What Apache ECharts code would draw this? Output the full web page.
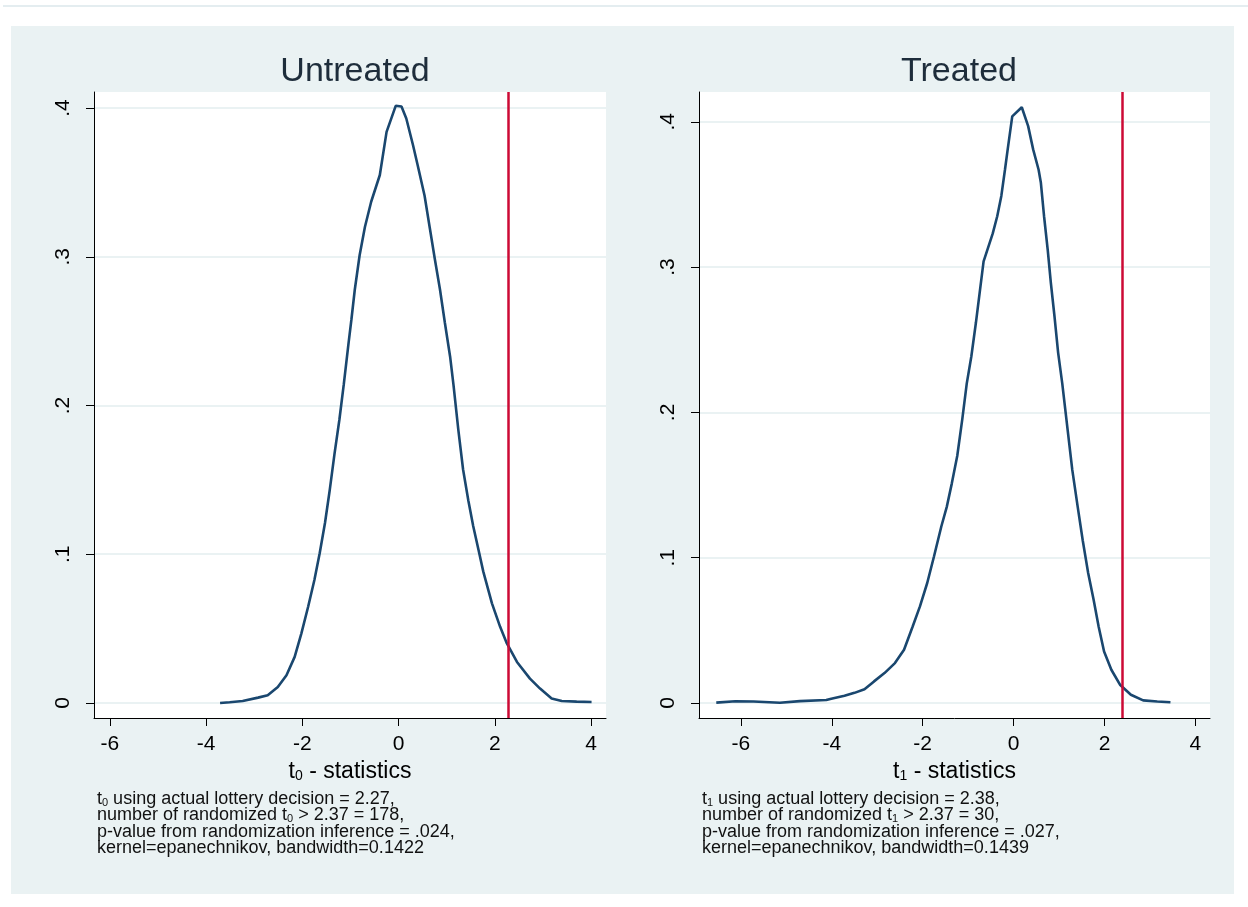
<!DOCTYPE html>
<html>
<head>
<meta charset="utf-8">
<script src="https://cdn.jsdelivr.net/npm/echarts@6/dist/echarts.min.js"></script>
<style>
  html, body { margin: 0; padding: 0; background: #fff; }
  #chart { width: 1248px; height: 907px; }
</style>
</head>
<body>
<div id="chart"></div>
<script>
// kernel density of randomized t-statistics
const untreatedT = [-3.71, -3.51, -3.24, -2.92, -2.72, -2.51, -2.33, -2.16, -2.02, -1.88, -1.75, -1.64,
  -1.53, -1.43, -1.33, -1.23, -1.14, -1.04, -0.98, -0.91, -0.81, -0.70, -0.57, -0.39, -0.25, -0.06,
  0.06, 0.16, 0.30, 0.40, 0.54, 0.65, 0.75, 0.86, 0.96, 1.07, 1.14, 1.24, 1.34, 1.45, 1.55, 1.66,
  1.76, 1.94, 2.11, 2.25, 2.46, 2.73, 2.94, 3.18, 3.39, 3.70, 4.01];
const untreatedDensity = [0.0, 0.0005, 0.0013, 0.0036, 0.0052, 0.0108, 0.0187, 0.031, 0.0468, 0.0647,
  0.0827, 0.1007, 0.121, 0.1434, 0.168, 0.1906, 0.214, 0.242, 0.258, 0.278, 0.301, 0.320, 0.337, 0.355,
  0.384, 0.4015, 0.401, 0.393, 0.375, 0.361, 0.341, 0.319, 0.299, 0.278, 0.256, 0.233, 0.214, 0.184,
  0.157, 0.136, 0.119, 0.103, 0.0883, 0.067, 0.0512, 0.040, 0.0276, 0.0164, 0.0097, 0.003, 0.0013,
  0.0009, 0.0007];

const treatedT = [-6.54, -6.12, -5.72, -5.68, -5.14, -5.10, -4.70, -4.66, -4.12, -4.01, -3.72, -3.50,
  -3.28, -3.07, -2.84, -2.61, -2.41, -2.22, -2.06, -1.90, -1.75, -1.59, -1.47, -1.36, -1.24, -1.13,
  -1.03, -0.93, -0.83, -0.74, -0.66, -0.46, -0.36, -0.27, -0.19, -0.13, -0.03, 0.18, 0.32, 0.43, 0.55,
  0.60, 0.67, 0.75, 0.82, 0.90, 0.98, 1.07, 1.17, 1.29, 1.41, 1.52, 1.64, 1.76, 1.87, 1.99, 2.15,
  2.34, 2.58, 2.85, 3.16, 3.45];
const treatedDensity = [0.0003, 0.0012, 0.0011, 0.0002, 0.0002, 0.0011, 0.0013, 0.0019, 0.0021, 0.003,
  0.005, 0.007, 0.0095, 0.0149, 0.0206, 0.0275, 0.0367, 0.0527, 0.0665, 0.0826, 0.101, 0.1215, 0.135,
  0.151, 0.170, 0.195, 0.220, 0.2385, 0.2615, 0.284, 0.304, 0.323, 0.335, 0.349, 0.367, 0.381, 0.4037,
  0.410, 0.397, 0.381, 0.367, 0.358, 0.335, 0.312, 0.289, 0.266, 0.241, 0.220, 0.193, 0.1606, 0.135,
  0.112, 0.0895, 0.0711, 0.0527, 0.0355, 0.0229, 0.0126, 0.0057, 0.0018, 0.0011, 0.0005];

// actual-decision t statistics (red lines)
const actualT = [2.27, 2.38];

const xTicks = [-6, -4, -2, 0, 2, 4];
const yTicks = [0, 0.1, 0.2, 0.3, 0.4];
const panelTitles = ["Untreated", "Treated"];
const subscripts = ["0", "1"];

const font = "Liberation Sans, Arial, sans-serif";
const navy = "#1a476f";
const red = "#cc0a35";
const gridColor = "#eaf2f3";

function zip(xs, ys) {
  return xs.map((x, i) => [x, ys[i]]);
}

function makeXAxis(gridIndex, min, max, sub) {
  return {
    type: "value",
    gridIndex: gridIndex,
    min: min,
    max: max,
    axisLine: { show: true, onZero: false, lineStyle: { color: "#000", width: 1 } },
    axisTick: { show: true, length: 8, customValues: xTicks, lineStyle: { color: "#000" } },
    axisLabel: { customValues: xTicks, fontSize: 21, color: "#000", fontFamily: font, margin: 16 },
    splitLine: { show: false },
    name: "{t|t}{s|" + sub + "}{t| - statistics}",
    nameLocation: "middle",
    nameGap: 38,
    nameTextStyle: {
      rich: {
        t: { fontSize: 23, fontFamily: font, color: "#000", lineHeight: 25, verticalAlign: "bottom" },
        s: { fontSize: 14, fontFamily: font, color: "#000", lineHeight: 21, verticalAlign: "bottom" },
      },
    },
  };
}

function makeYAxis(gridIndex, min, max) {
  return {
    type: "value",
    gridIndex: gridIndex,
    min: min,
    max: max,
    axisLine: { show: true, onZero: false, lineStyle: { color: "#000", width: 1 } },
    axisTick: { show: true, length: 8, customValues: yTicks, lineStyle: { color: "#000" } },
    axisLabel: {
      customValues: yTicks,
      rotate: 90,
      fontSize: 21,
      color: "#000",
      fontFamily: font,
      margin: 20,
      formatter: (v) => (v === 0 ? "0" : String(Math.round(v * 10) / 10).replace("0.", ".")),
    },
    splitLine: { show: true, lineStyle: { color: gridColor, width: 2 } },
  };
}

function makeSeries(index, xs, ys) {
  return {
    type: "line",
    xAxisIndex: index,
    yAxisIndex: index,
    data: zip(xs, ys),
    showSymbol: false,
    smooth: false,
    silent: true,
    lineStyle: { color: navy, width: 2.6 },
    markLine: {
      silent: true,
      symbol: ["none", "none"],
      label: { show: false },
      lineStyle: { color: red, width: 2.5, type: "solid" },
      data: [{ xAxis: actualT[index] }],
    },
  };
}

function noteText(sub, t, count, p, bw) {
  return [
    "{n|t}{s|" + sub + "}{n| using actual lottery decision = " + t + ",}",
    "{n|number of randomized t}{s|" + sub + "}{n| > 2.37 = " + count + ",}",
    "{n|p-value from randomization inference = " + p + ",}",
    "{n|kernel=epanechnikov, bandwidth=" + bw + "}",
  ].join("\n");
}

const noteRich = {
  n: { fontSize: 18, fontFamily: font, fill: "#111", lineHeight: 16.5, verticalAlign: "bottom" },
  s: { fontSize: 11, fontFamily: font, fill: "#111", lineHeight: 14, verticalAlign: "bottom" },
};

const titleStyle = { fontSize: 34, fontWeight: "normal", color: "#1e2d3b", fontFamily: font };

const chart = echarts.init(document.getElementById("chart"), null, { renderer: "canvas" });

const options = {
  backgroundColor: "#fff",
  animation: false,
  title: [
    { text: panelTitles[0], left: 350, top: 50, textAlign: "center", textStyle: titleStyle },
    { text: panelTitles[1], left: 954, top: 50, textAlign: "center", textStyle: titleStyle },
  ],
  grid: [
    { left: 94, top: 92, width: 512, height: 626, show: true, backgroundColor: "#fff", borderWidth: 0, outerBoundsMode: "none" },
    { left: 699, top: 92, width: 511, height: 626, show: true, backgroundColor: "#fff", borderWidth: 0, outerBoundsMode: "none" },
  ],
  xAxis: [makeXAxis(0, -6.33, 4.31, subscripts[0]), makeXAxis(1, -6.92, 4.32, subscripts[1])],
  yAxis: [makeYAxis(0, -0.0101, 0.4108), makeYAxis(1, -0.0103, 0.4205)],
  series: [makeSeries(0, untreatedT, untreatedDensity), makeSeries(1, treatedT, treatedDensity)],
  graphic: [
    // thin rule at top of the page and the graph region
    { type: "rect", z: -20, silent: true, shape: { x: 3, y: 5, width: 1245, height: 2 }, style: { fill: "#e4edf0" } },
    { type: "rect", z: -20, silent: true, shape: { x: 11, y: 26, width: 1223, height: 868 }, style: { fill: gridColor } },
    {
      type: "text", left: 97, top: 790, silent: true,
      style: { text: noteText(subscripts[0], "2.27", "178", ".024", "0.1422"), rich: noteRich },
    },
    {
      type: "text", left: 702, top: 790, silent: true,
      style: { text: noteText(subscripts[1], "2.38", "30", ".027", "0.1439"), rich: noteRich },
    },
  ],
};

chart.setOption(options);
</script>
</body>
</html>
